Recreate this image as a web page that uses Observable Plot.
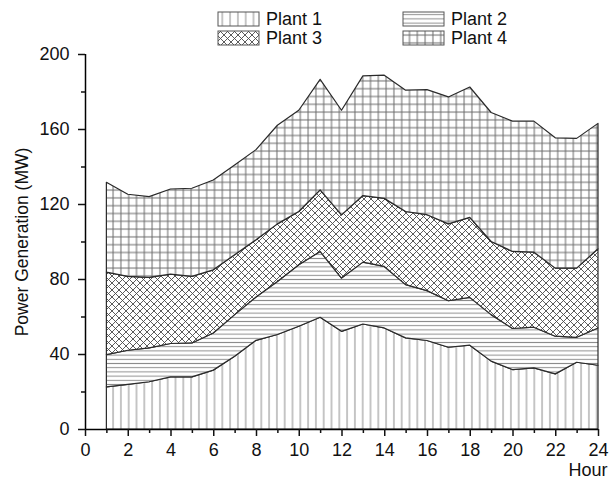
<!DOCTYPE html>
<html>
<head>
<meta charset="utf-8">
<script src="https://cdn.jsdelivr.net/npm/d3@7"></script>
<script src="https://cdn.jsdelivr.net/npm/@observablehq/plot@0.6"></script>
<style>
  html, body { margin: 0; padding: 0; background: #fff; }
  body { width: 609px; height: 482px; overflow: hidden; font-family: "Liberation Sans", Arial, sans-serif; }
  #legend { display: block; position: relative; z-index: 1; }
  #chart { margin-top: -12px; position: relative; z-index: 0; }
  #chart svg { display: block; }
</style>
</head>
<body>
<svg id="legend" width="609" height="50"></svg>
<div id="chart"></div>
<script>
const hours = [1,2,3,4,5,6,7,8,9,10,11,12,13,14,15,16,17,18,19,20,21,22,23,24];
const plants = ["Plant 1", "Plant 2", "Plant 3", "Plant 4"];
const plant1 = [22.5,23.8,25.2,27.8,27.8,31.4,38.8,47.3,50.4,54.8,59.6,52.1,56.0,53.9,48.6,47.2,43.6,44.7,36.2,31.7,32.6,29.4,35.6,34.0];
const plant2 = [17.2,18.2,18.1,17.8,18.1,19.8,22.2,23.1,28.3,32.8,35.1,28.4,33.0,32.8,28.4,26.6,24.8,25.5,24.8,21.9,21.7,20.1,13.3,19.9];
const plant3 = [44.0,39.4,37.6,37.0,35.5,33.7,31.9,30.5,30.7,28.4,32.8,33.7,35.5,36.3,39.0,40.5,41.0,42.7,39.0,41.1,40.0,36.3,36.9,42.2];
const plant4 = [47.9,43.8,43.0,45.4,47.0,47.9,47.9,48.1,52.6,54.0,59.0,55.8,63.8,65.7,64.7,66.7,67.7,69.5,68.8,69.5,69.9,69.5,69.2,66.9];
const xTicks = [0,2,4,6,8,10,12,14,16,18,20,22,24];
const xMinorTicks = [1,3,5,7,9,11,13,15,17,19,21,23];
const yTicks = [0,40,80,120,160,200];
const yMinorTicks = [20,60,100,140,180];
const yLabel = "Power Generation (MW)";
const xLabel = "Hour";

const series = [plant1, plant2, plant3, plant4];
const table = plants.flatMap((p, i) => hours.map((h, j) => ({hour: h, plant: p, value: series[i][j]})));
const patternIds = ["pat1", "pat2", "pat3", "pat4"];

// Pattern definitions + legend
const NS = "http://www.w3.org/2000/svg";
const legend = document.getElementById("legend");
legend.innerHTML = `
<defs>
  <pattern id="pat1" patternUnits="userSpaceOnUse" width="7.8" height="10">
    <rect width="7.8" height="10" fill="#fff"/>
    <line x1="3.9" y1="0" x2="3.9" y2="10" stroke="#8c8c8c" stroke-width="1"/>
  </pattern>
  <pattern id="pat2" patternUnits="userSpaceOnUse" width="10" height="4.2">
    <rect width="10" height="4.2" fill="#fff"/>
    <line x1="0" y1="2.1" x2="10" y2="2.1" stroke="#8c8c8c" stroke-width="1"/>
  </pattern>
  <pattern id="pat3" patternUnits="userSpaceOnUse" width="7" height="7">
    <rect width="7" height="7" fill="#fff"/>
    <path d="M-1,-1 L8,8 M-1,8 L8,-1" stroke="#4a4a4a" stroke-width="0.9" fill="none"/>
  </pattern>
  <pattern id="pat4" patternUnits="userSpaceOnUse" width="7.8" height="7.8">
    <rect width="7.8" height="7.8" fill="#fff"/>
    <path d="M3.9,0 V7.8 M0,3.9 H7.8" stroke="#6a6a6a" stroke-width="1" fill="none"/>
  </pattern>
</defs>`;
const legendPos = [[218, 12], [403, 12], [218, 31], [403, 31]];
plants.forEach((p, i) => {
  const [lx, ly] = legendPos[i];
  const r = document.createElementNS(NS, "rect");
  r.setAttribute("x", lx); r.setAttribute("y", ly);
  r.setAttribute("width", 41); r.setAttribute("height", 14);
  r.setAttribute("fill", `url(#${patternIds[i]})`);
  r.setAttribute("stroke", "#555"); r.setAttribute("stroke-width", 1);
  legend.appendChild(r);
  const t = document.createElementNS(NS, "text");
  t.setAttribute("x", lx + 48); t.setAttribute("y", ly + 7);
  t.setAttribute("dominant-baseline", "central");
  t.setAttribute("font-size", "18px");
  t.setAttribute("font-family", "Liberation Sans, Arial, sans-serif");
  t.setAttribute("fill", "#111");
  t.textContent = p;
  legend.appendChild(t);
});

const chart = Plot.plot({
  width: 609,
  height: 444,
  marginTop: 16,
  marginBottom: 53,
  marginLeft: 85,
  marginRight: 11,
  style: {fontFamily: "Liberation Sans, Arial, sans-serif", fontSize: "18px", color: "#111", background: "transparent"},
  x: {domain: [0, 24]},
  y: {domain: [0, 200]},
  color: {domain: plants, range: patternIds.map(id => `url(#${id})`)},
  marks: [
    Plot.areaY(table, {x: "hour", y: "value", z: "plant", fill: "plant", stroke: "#2a2a2a", strokeWidth: 1.2}),
    Plot.ruleX([0], {stroke: "#000", strokeWidth: 1.5}),
    Plot.ruleY([0], {stroke: "#000", strokeWidth: 1.5}),
    Plot.axisY(yTicks, {tickSize: 7, tickPadding: 9, strokeWidth: 1.5, label: null, fontSize: 18, fill: "#111"}),
    Plot.axisY(yMinorTicks, {tickSize: 4, strokeWidth: 1.5, fill: "none", label: null}),
    Plot.axisX(xTicks, {tickSize: 7, tickPadding: 7, strokeWidth: 1.5, label: null, fontSize: 18, fill: "#111"}),
    Plot.axisX(xMinorTicks, {tickSize: 4, strokeWidth: 1.5, fill: "none", label: null}),
    Plot.text([yLabel], {frameAnchor: "left", textAnchor: "middle", rotate: -90, dx: -63, fontSize: 17.5, fill: "#111"}),
    Plot.text([xLabel], {frameAnchor: "bottom-right", textAnchor: "end", dx: 9, dy: 46, fontSize: 18, fill: "#111"})
  ]
});
document.getElementById("chart").appendChild(chart);
</script>
</body>
</html>
